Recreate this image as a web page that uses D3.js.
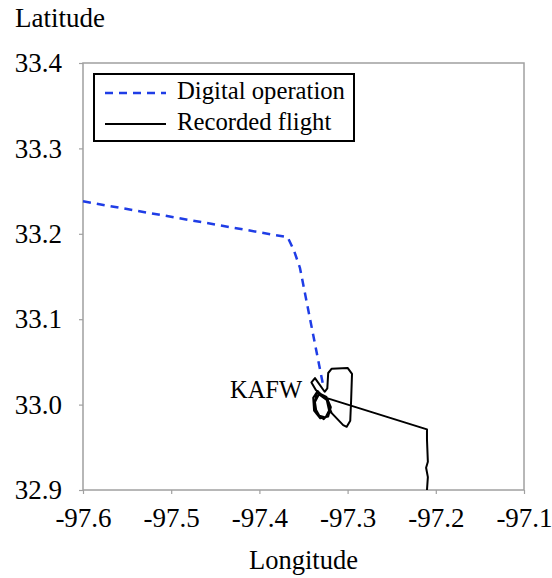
<!DOCTYPE html>
<html>
<head>
<meta charset="utf-8">
<script src="https://cdn.jsdelivr.net/npm/d3@7"></script>
<style>
  body { margin: 0; background: #fff; }
  svg, svg text { font-family: "Liberation Serif", "Times New Roman", Times, serif; }
</style>
</head>
<body>
<svg id="chart"></svg>
<script>
// tick values
const xTicks = [-97.6, -97.5, -97.4, -97.3, -97.2, -97.1];
const yTicks = [32.9, 33.0, 33.1, 33.2, 33.3, 33.4];

// digital operation (dashed blue), lon / lat
const digitalLon = [-97.6, -97.368, -97.361, -97.354, -97.328];
const digitalLat = [33.238, 33.196, 33.181, 33.16, 33.024];

// recorded flight (black), lon / lat
const flightLon = [-97.21, -97.209, -97.211, -97.209, -97.21, -97.21, -97.328,
  -97.334, -97.339, -97.338, -97.331, -97.322, -97.319, -97.324, -97.332,
  -97.337, -97.335, -97.327, -97.32, -97.323, -97.335, -97.338, -97.332,
  -97.325, -97.321, -97.324, -97.336, -97.341, -97.337,
  -97.326, -97.323, -97.322, -97.318, -97.3, -97.295, -97.296, -97.297,
  -97.301, -97.305, -97.318, -97.323];
const flightLat = [32.9, 32.915, 32.926, 32.933, 32.959, 32.971, 33.009,
  33.016, 33.008, 32.993, 32.984, 32.986, 32.997, 33.009, 33.013,
  33.003, 32.989, 32.983, 32.991, 33.005, 33.014, 32.998, 32.987,
  32.985, 32.993, 33.007, 33.017, 33.026, 33.031,
  33.015, 33.019, 33.037, 33.042, 33.043, 33.036, 33.005, 32.981,
  32.974, 32.976, 32.99, 33.002];

const width = 552;
const height = 578;
const margin = { top: 63, right: 28, bottom: 88, left: 83 };
const axisColor = "#a0a0a0";
const serif = '"Liberation Serif", "Times New Roman", Times, serif';

const svg = d3.select("#chart")
  .attr("width", width)
  .attr("height", height)
  .attr("font-family", serif);

const x = d3.scaleLinear()
  .domain([-97.6, -97.1])
  .range([margin.left, width - margin.right]);
const y = d3.scaleLinear()
  .domain([32.9, 33.4])
  .range([height - margin.bottom, margin.top]);

// plot frame
svg.append("rect")
  .attr("x", x(-97.6))
  .attr("y", y(33.4))
  .attr("width", x(-97.1) - x(-97.6))
  .attr("height", y(32.9) - y(33.4))
  .attr("fill", "none")
  .attr("stroke", axisColor)
  .attr("stroke-width", 1.5);

const fmt = (d) => d.toFixed(1);

const xAxis = (g) =>
  g.attr("transform", `translate(0,${y(32.9)})`)
    .call(d3.axisBottom(x).tickValues(xTicks).tickFormat(fmt)
      .tickSize(4).tickPadding(14))
    .attr("font-family", serif)
    .attr("font-size", 27)
    .call((g) => g.select(".domain").remove())
    .call((g) => g.selectAll("line").attr("stroke", axisColor).attr("stroke-width", 1.2))
    .call((g) => g.selectAll("text").attr("fill", "#000"));

const yAxis = (g) =>
  g.attr("transform", `translate(${x(-97.6)},0)`)
    .call(d3.axisLeft(y).tickValues(yTicks).tickFormat(fmt)
      .tickSize(4).tickPadding(17))
    .attr("font-family", serif)
    .attr("font-size", 27)
    .call((g) => g.select(".domain").remove())
    .call((g) => g.selectAll("line").attr("stroke", axisColor).attr("stroke-width", 1.2))
    .call((g) => g.selectAll("text").attr("fill", "#000"));

svg.append("g").call(xAxis);
svg.append("g").call(yAxis);

const line = d3.line()
  .x((d) => x(d[0]))
  .y((d) => y(d[1]));

svg.append("path")
  .datum(d3.zip(flightLon, flightLat))
  .attr("fill", "none")
  .attr("stroke", "#000")
  .attr("stroke-width", 2)
  .attr("stroke-linejoin", "round")
  .attr("d", line);

svg.append("path")
  .datum(d3.zip(digitalLon, digitalLat))
  .attr("fill", "none")
  .attr("stroke", "#1f3de6")
  .attr("stroke-width", 2.5)
  .attr("stroke-dasharray", "8,6")
  .attr("d", line);

// airport label
svg.append("text")
  .attr("x", x(-97.338) - 12)
  .attr("y", y(33.008))
  .attr("text-anchor", "end")
  .attr("font-size", 24.5)
  .text("KAFW");

// axis titles
svg.append("text")
  .attr("x", 15)
  .attr("y", 27)
  .attr("font-size", 27)
  .text("Latitude");

svg.append("text")
  .attr("x", (x(-97.6) + x(-97.1)) / 2)
  .attr("y", 569)
  .attr("text-anchor", "middle")
  .attr("font-size", 26.5)
  .text("Longitude");

// legend
const legend = svg.append("g");
legend.append("rect")
  .attr("x", 94)
  .attr("y", 74)
  .attr("width", 260)
  .attr("height", 67)
  .attr("fill", "#fff")
  .attr("stroke", "#000")
  .attr("stroke-width", 2);

const legendItems = [
  { label: "Digital operation", color: "#1f3de6", dash: "8,6", width: 2.5 },
  { label: "Recorded flight", color: "#000", dash: null, width: 2 }
];
legendItems.forEach((d, i) => {
  const yy = 93 + i * 31;
  legend.append("line")
    .attr("x1", 105).attr("x2", 166)
    .attr("y1", yy).attr("y2", yy)
    .attr("stroke", d.color)
    .attr("stroke-width", d.width)
    .attr("stroke-dasharray", d.dash);
  legend.append("text")
    .attr("x", 177)
    .attr("y", yy + 6)
    .attr("font-size", 24.7)
    .text(d.label);
});
</script>
</body>
</html>
